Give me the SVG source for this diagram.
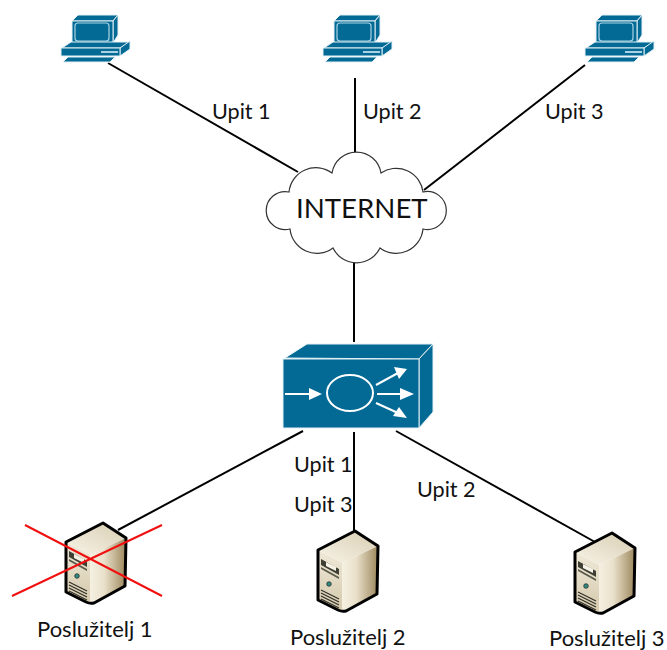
<svg xmlns="http://www.w3.org/2000/svg" width="667" height="650" viewBox="0 0 667 650">
<style>
text{font-family:Lato,"Liberation Sans",sans-serif;font-size:21.6px;fill:#111}
.n{font-size:22px}
.c{stroke:#000;stroke-width:2;fill:none}
.b{fill:#036a96;stroke:#e4f0f5;stroke-width:1}
.w{stroke:#fff;stroke-width:2;fill:none}
.a{fill:#fff;stroke:none}
.o{stroke:#000;stroke-width:3;stroke-linejoin:round}
.l{stroke:#2e2e26;stroke-width:1.1;fill:none}
</style>
<defs>
<linearGradient id="sf" x1="0" y1="0" x2="1" y2="0"><stop offset="0" stop-color="#f5f0e2"/><stop offset="0.4" stop-color="#e9e0ca"/><stop offset="1" stop-color="#9c875c"/></linearGradient>
<linearGradient id="lf" x1="0" y1="0" x2="0" y2="1"><stop offset="0" stop-color="#efe9d8"/><stop offset="1" stop-color="#d5c9ac"/></linearGradient>
<linearGradient id="tf" x1="0" y1="1" x2="1" y2="0"><stop offset="0" stop-color="#f8f4e8"/><stop offset="1" stop-color="#d8cdb2"/></linearGradient>
<g id="pc">
<path class="b" d="M72 21L78 15H118L113 21Z"/>
<path class="b" d="M113 21L118 15V35L113 43Z"/>
<rect class="b" x="72" y="21" width="41" height="22"/>
<rect x="75" y="23" width="34" height="18" rx="3" fill="none" stroke="#a9d3e4" stroke-width="1.2"/>
<path class="b" d="M62 48L71 42H130L120 48Z"/>
<path class="b" d="M120 48L130 41V49L120 56Z"/>
<rect class="b" x="61" y="48" width="59" height="8"/>
<rect x="101" y="51" width="17" height="2" fill="#a9d3e4"/>
<path class="b" d="M63 62L68 57H115L110 62Z"/>
</g>
<g id="srv">
<path d="M318 550L355 531L378 546L342 563Z" fill="url(#tf)"/>
<path d="M318 550L342 563V611L318 600Z" fill="url(#lf)"/>
<path d="M342 563L378 546L377 594L342 611Z" fill="url(#sf)"/>
<path class="o" fill="none" d="M318 550L355 531L378 546L377 594L346 611Q342 612 338 610L318 600Z"/>
<path d="M321 559L339 569V575L321 565Z" fill="#3f3f34"/>
<path d="M326 562L336 567V571L326 566Z" fill="#f6f2e6"/>
<path d="M321 567L339 577V579L321 569Z" fill="#5a5a4a"/>
<circle cx="329" cy="584" r="2.3" fill="#2f8a80" stroke="#222" stroke-width="0.7"/>
<path class="l" d="M321 590L339 599M321 593L339 602M321 596L339 605M321 599L339 608"/>
</g>
</defs>
<g id="connectors">
<path class="c" d="M108 63L298 172"/>
<path class="c" d="M355 78V152"/>
<path class="c" d="M585 65L424 190"/>
<path class="c" d="M354 263V342"/>
<path class="c" d="M303 431L118 530"/>
<path class="c" d="M354 432V531"/>
<path class="c" d="M396 431L595 542"/>
</g>
<g id="pc1"><use href="#pc"/></g>
<g id="pc2"><use href="#pc" x="262"/></g>
<g id="pc3"><use href="#pc" x="524"/></g>
<g id="cloud">
<path d="M289 192A27 27 0 0 1 332 173A24.8 24.8 0 0 1 381 173A27 27 0 0 1 423 192A19 19 0 1 1 423 229A27 27 0 0 1 380 248A26 26 0 0 1 333 248A27 27 0 0 1 290 229A19 19 0 1 1 289 192Z" fill="#fff" stroke="#333" stroke-width="1.2"/>
<text x="296" y="218" style="font-size:27.6px">INTERNET</text>
</g>
<g id="balancer">
<path class="b" d="M285 358L307 344H433L419 359Z"/>
<path class="b" d="M419 359L433 344V412L419 428Z"/>
<rect class="b" x="283" y="359" width="136" height="69"/>
<path class="w" d="M285 394H314"/>
<path class="a" d="M309 388L322 394L309 400Z"/>
<ellipse class="w" cx="350" cy="393" rx="23" ry="18"/>
<path class="w" d="M376 385L398 373"/>
<path class="a" d="M394 367L407 369L399 379Z"/>
<path class="w" d="M377 394H403"/>
<path class="a" d="M400 388L414 394L400 400Z"/>
<path class="w" d="M376 403L398 413"/>
<path class="a" d="M399 407L407 418L393 416Z"/>
</g>
<g id="server1"><use href="#srv" x="-252" y="-8"/>
<path d="M25 525L162 596M12 596L162 525" stroke="#f01010" stroke-width="2" fill="none"/>
<text class="n" x="37" y="637">Poslužitelj 1</text></g>
<g id="server2"><use href="#srv"/><text class="n" x="290" y="645">Poslužitelj 2</text></g>
<g id="server3"><use href="#srv" x="257" y="2"/><text class="n" x="549" y="646">Poslužitelj 3</text></g>
<g id="labels">
<text x="212" y="119">Upit 1</text>
<text x="363" y="119">Upit 2</text>
<text x="545" y="119">Upit 3</text>
<text x="294" y="472">Upit 1</text>
<text x="294" y="512">Upit 3</text>
<text x="417" y="497">Upit 2</text>
</g>
</svg>
